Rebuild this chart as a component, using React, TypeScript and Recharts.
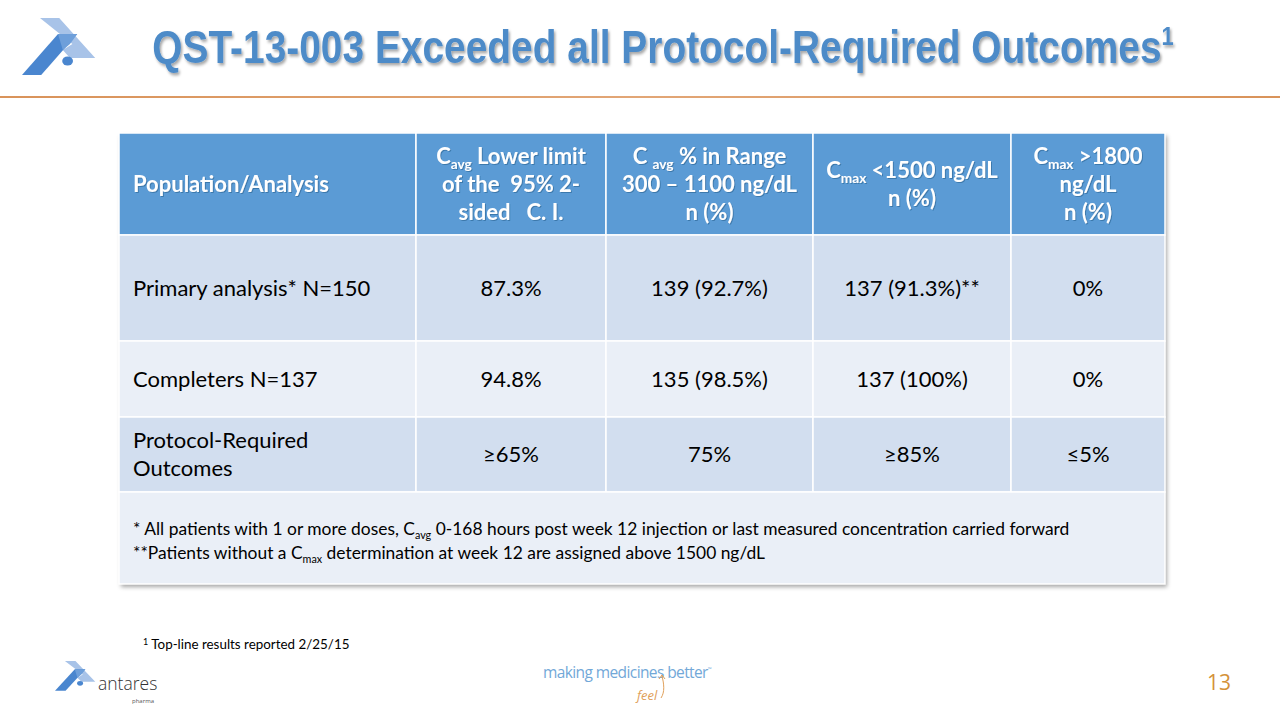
import React from "react";
import { Surface, Layer, Rectangle } from "recharts";

// table content (subscripts written as _{...})
const headers = [
  ["Population/Analysis"],
  ["C_{avg} Lower limit", "of the  95% 2-", "sided   C. I."],
  ["C _{avg} % in Range", "300 – 1100 ng/dL", "n (%)"],
  ["C_{max} <1500 ng/dL", "n (%)"],
  ["C_{max} >1800", "ng/dL", "n (%)"],
];
const populations = ["Primary analysis* N=150", "Completers N=137", "Protocol-Required\nOutcomes"];
const cavgLowerLimit = ["87.3%", "94.8%", "≥65%"];
const cavgInRange = ["139 (92.7%)", "135 (98.5%)", "75%"];
const cmaxBelow1500 = ["137 (91.3%)**", "137 (100%)", "≥85%"];
const cmaxAbove1800 = ["0%", "0%", "≤5%"];
const footnotes = [
  "* All patients with 1 or more doses, C_{avg} 0-168 hours post week 12 injection or last measured concentration carried forward",
  "**Patients without a C_{max} determination at week 12 are assigned above 1500 ng/dL",
];
const titleText = "QST-13-003 Exceeded all Protocol-Required Outcomes";
const refNote = "Top-line results reported 2/25/15";

const W = 1280;
const H = 720;
const COLS = [119, 416, 606, 813, 1011, 1165];
const ROWS = [133, 235, 341, 417, 492, 584];
const BODY_FILLS = ["#D2DEEF", "#EAEFF7", "#D2DEEF"];
const FONT = "Lato, 'Open Sans', sans-serif";

function Rich({ x, y, text, size, anchor = "start", weight = 400, fill = "#000", filter }: any) {
  const parts = text.split(/_\{([^}]*)\}/);
  const shift = size * 0.22;
  return (
    <text
      x={x}
      y={y}
      fontSize={size}
      fontFamily={FONT}
      fontWeight={weight}
      fill={fill}
      textAnchor={anchor}
      filter={filter}
      style={{ whiteSpace: "pre" }}
    >
      {parts.map((p: string, i: number) =>
        i % 2 ? (
          <tspan key={i} fontSize={size * 0.62} dy={shift}>
            {p}
          </tspan>
        ) : (
          <tspan key={i} dy={i > 0 ? -shift : 0}>
            {p}
          </tspan>
        )
      )}
    </text>
  );
}

function Lines({ x, cy, lines, size, lh, anchor, weight, fill, filter }: any) {
  const top = cy - ((lines.length - 1) * lh) / 2;
  return (
    <Layer>
      {lines.map((l: string, i: number) => (
        <Rich
          key={i}
          x={x}
          y={top + i * lh + size * 0.35}
          text={l}
          size={size}
          anchor={anchor}
          weight={weight}
          fill={fill}
          filter={filter}
        />
      ))}
    </Layer>
  );
}

function Logo({ transform }: any) {
  return (
    <g transform={transform}>
      <polygon points="33,18 49,18 79,58 58,58 52,50 60,44" fill="#A8C3E8" />
      <polygon points="18,75 34,75 64,34 48,34" fill="#4A86CF" />
      <polygon points="48,34 64,34 58,44 52,50" fill="#6E9FDA" />
      <circle cx={56} cy={61} r={4.5} fill="#4A86CF" />
    </g>
  );
}

export default function App() {
  const valueCols = [cavgLowerLimit, cavgInRange, cmaxBelow1500, cmaxAbove1800];
  const tableW = COLS[COLS.length - 1] - COLS[0];
  return (
    <div style={{ width: W, height: H, background: "#fff" }}>
      <style>{`body{margin:0}`}</style>
      <Surface width={W} height={H} viewBox={{ x: 0, y: 0, width: W, height: H }}>
        <defs>
          <filter id="tshadow" x="-5%" y="-20%" width="110%" height="160%">
            <feDropShadow dx="1.5" dy="2" stdDeviation="1.2" floodColor="#000" floodOpacity="0.35" />
          </filter>
          <filter id="hshadow" x="-5%" y="-20%" width="110%" height="160%">
            <feDropShadow dx="1" dy="1" stdDeviation="0.6" floodColor="#1F4E79" floodOpacity="0.45" />
          </filter>
          <filter id="tblshadow" x="-5%" y="-5%" width="110%" height="115%">
            <feDropShadow dx="2" dy="3" stdDeviation="2" floodColor="#000" floodOpacity="0.35" />
          </filter>
          <linearGradient id="rule" x1="0" x2="1" y1="0" y2="0">
            <stop offset="0" stopColor="#D9935A" />
            <stop offset="0.5" stopColor="#E2A676" />
            <stop offset="1" stopColor="#D9935A" />
          </linearGradient>
        </defs>

        {/* header */}
        <Logo transform="translate(22,0) scale(1.2,1) translate(-18,0)" />
        <text
          transform="translate(663,63) scale(1,1.2)"
          x={0}
          y={0}
          textAnchor="middle"
          fontFamily="'Liberation Sans', Arial, sans-serif"
          fontWeight={700}
          fontSize={38.9}
          fill="#4E8BC8"
          filter="url(#tshadow)"
        >
          {titleText}
          <tspan fontSize={22} dy={-15}>1</tspan>
        </text>
        <Rectangle x={0} y={96} width={W} height={2} fill="url(#rule)" />

        {/* table */}
        <Rectangle
          x={COLS[0]}
          y={ROWS[0]}
          width={tableW}
          height={ROWS[ROWS.length - 1] - ROWS[0]}
          fill="#EAEFF7"
          filter="url(#tblshadow)"
        />
        {headers.map((lines, c) => (
          <Layer key={`h${c}`}>
            <Rectangle
              x={COLS[c]}
              y={ROWS[0]}
              width={COLS[c + 1] - COLS[c]}
              height={ROWS[1] - ROWS[0]}
              fill="#5B9BD5"
              stroke="#fff"
              strokeWidth={1.5}
            />
            <Lines
              x={c === 0 ? COLS[0] + 14 : (COLS[c] + COLS[c + 1]) / 2}
              cy={(ROWS[0] + ROWS[1]) / 2}
              lines={lines}
              size={22}
              lh={28}
              anchor={c === 0 ? "start" : "middle"}
              weight={700}
              fill="#fff"
              filter="url(#hshadow)"
            />
          </Layer>
        ))}
        {populations.map((pop, r) => {
          const cy = (ROWS[r + 1] + ROWS[r + 2]) / 2;
          const cells = [pop, ...valueCols.map((col) => col[r])];
          return (
            <Layer key={`r${r}`}>
              {cells.map((v, c) => (
                <Layer key={c}>
                  <Rectangle
                    x={COLS[c]}
                    y={ROWS[r + 1]}
                    width={COLS[c + 1] - COLS[c]}
                    height={ROWS[r + 2] - ROWS[r + 1]}
                    fill={BODY_FILLS[r]}
                    stroke="#fff"
                    strokeWidth={1.5}
                  />
                  <Lines
                    x={c === 0 ? COLS[0] + 14 : (COLS[c] + COLS[c + 1]) / 2}
                    cy={cy}
                    lines={v.split("\n")}
                    size={22}
                    lh={28}
                    anchor={c === 0 ? "start" : "middle"}
                    weight={400}
                    fill="#000"
                  />
                </Layer>
              ))}
            </Layer>
          );
        })}
        <Rectangle
          x={COLS[0]}
          y={ROWS[4]}
          width={tableW}
          height={ROWS[5] - ROWS[4]}
          fill="#EAEFF7"
          stroke="#fff"
          strokeWidth={1.5}
        />
        {footnotes.map((f, i) => (
          <Rich key={f} x={COLS[0] + 14} y={535 + i * 24} text={f} size={17.4} fill="#000" />
        ))}

        {/* footer */}
        <text x={143} y={649} fontFamily={FONT} fontSize={13.4} fill="#000">
          <tspan fontSize={9} dy={-4}>1</tspan>
          <tspan dy={4}> {refNote}</tspan>
        </text>
        <Logo transform="translate(55,661) scale(0.66,0.52) translate(-18,-18)" />
        <text x={98} y={690} fontFamily="'Open Sans', sans-serif" fontWeight={300} fontSize={17.5} fill="#333">
          antares
        </text>
        <text x={132} y={703} fontFamily="'Open Sans', sans-serif" fontSize={6} fill="#555">
          pharma
        </text>
        <text x={543} y={678} fontFamily="'Open Sans', sans-serif" fontSize={15.5} fill="#72A8D8" letterSpacing={-0.6}>
          making medicines better
          <tspan fontSize={5} dy={-7}>™</tspan>
        </text>
        <text x={637} y={700} fontFamily="'Open Sans', sans-serif" fontStyle="italic" fontSize={13} fill="#E0A05A">
          feel
        </text>
        <path d="M661,698 C665,692 664,684 662,676 M659,679 L662,675 L665,679" stroke="#E0A05A" strokeWidth={1} fill="none" />
        <text x={1207} y={690} fontFamily="'Open Sans', sans-serif" fontSize={21} fill="#D4923A">
          13
        </text>
      </Surface>
    </div>
  );
}
